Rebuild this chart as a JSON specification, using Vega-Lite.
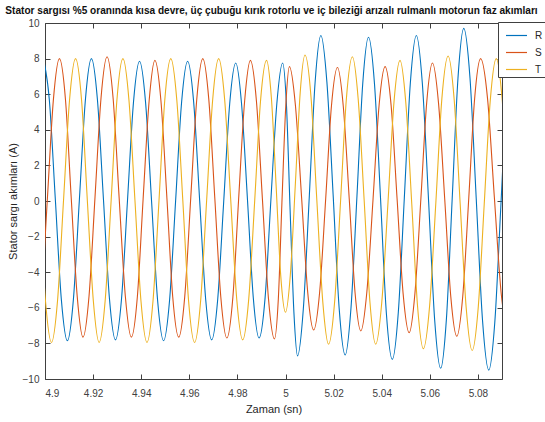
{
"$schema": "https://vega.github.io/schema/vega-lite/v6.json",
"width": 457, "height": 356,
"autosize": {"type": "none"},
"padding": {"left": 45, "top": 23, "right": 43, "bottom": 43},
"background": "white",
"config": {"view": {"stroke": "#404040", "strokeWidth": 1}, "font": "Liberation Sans"},
"title": {"text": "Stator sargısı %5  oranında kısa devre, üç çubuğu kırık rotorlu ve  iç bileziği arızalı rulmanlı motorun faz akımları", "fontSize": 10.1, "fontWeight": "bold", "font": "Liberation Sans", "color": "#111111", "anchor": "middle", "frame": "group", "offset": 2, "dx": -2},
"layer": [
{"data": {"values": [
{"p":"R","t":4.8993,"v":8.0},{"p":"R","t":4.9018,"v":5.69},{"p":"R","t":4.9043,"v":0.08},{"p":"R","t":4.9068,"v":-5.54},
{"p":"R","t":4.9093,"v":-7.85},{"p":"R","t":4.9118,"v":-5.54},{"p":"R","t":4.9143,"v":0.08},{"p":"R","t":4.9168,"v":5.69},
{"p":"R","t":4.9193,"v":8.0},{"p":"R","t":4.9218,"v":5.69},{"p":"R","t":4.9243,"v":0.1},{"p":"R","t":4.9268,"v":-5.49},
{"p":"R","t":4.9293,"v":-7.8},{"p":"R","t":4.9318,"v":-5.52},{"p":"R","t":4.9343,"v":0.03},{"p":"R","t":4.9368,"v":5.57},
{"p":"R","t":4.9393,"v":7.85},{"p":"R","t":4.9418,"v":5.56},{"p":"R","t":4.9443,"v":0},{"p":"R","t":4.9468,"v":-5.56},
{"p":"R","t":4.9493,"v":-7.85},{"p":"R","t":4.9518,"v":-5.56},{"p":"R","t":4.9543,"v":0},{"p":"R","t":4.9568,"v":5.56},
{"p":"R","t":4.9593,"v":7.85},{"p":"R","t":4.9618,"v":5.57},{"p":"R","t":4.9643,"v":0.03},{"p":"R","t":4.9668,"v":-5.52},
{"p":"R","t":4.9693,"v":-7.8},{"p":"R","t":4.9718,"v":-5.53},{"p":"R","t":4.9743,"v":-0.03},{"p":"R","t":4.9768,"v":5.48},
{"p":"R","t":4.9793,"v":7.75},{"p":"R","t":4.9817,"v":5.49},{"p":"R","t":4.9842,"v":0.03},{"p":"R","t":4.9866,"v":-5.44},
{"p":"R","t":4.9890,"v":-7.7},{"p":"R","t":4.9915,"v":-5.44},{"p":"R","t":4.9939,"v":0.03},{"p":"R","t":4.9964,"v":5.49},
{"p":"R","t":4.9988,"v":7.75},{"p":"R","t":5.0004,"v":5.35},{"p":"R","t":5.0019,"v":-0.48},{"p":"R","t":5.0035,"v":-6.30},
{"p":"R","t":5.0050,"v":-8.7},{"p":"R","t":5.0074,"v":-6.07},{"p":"R","t":5.0099,"v":0.3},{"p":"R","t":5.0123,"v":6.67},
{"p":"R","t":5.0147,"v":9.3},{"p":"R","t":5.0172,"v":6.68},{"p":"R","t":5.0198,"v":0.33},{"p":"R","t":5.0223,"v":-6.03},
{"p":"R","t":5.0248,"v":-8.65},{"p":"R","t":5.0272,"v":-6.04},{"p":"R","t":5.0297,"v":0.28},{"p":"R","t":5.0321,"v":6.59},
{"p":"R","t":5.0345,"v":9.2},{"p":"R","t":5.0370,"v":6.56},{"p":"R","t":5.0395,"v":0.15},{"p":"R","t":5.0419,"v":-6.26},
{"p":"R","t":5.0444,"v":-8.9},{"p":"R","t":5.0469,"v":-6.24},{"p":"R","t":5.0494,"v":0.2},{"p":"R","t":5.0519,"v":6.64},
{"p":"R","t":5.0544,"v":9.3},{"p":"R","t":5.0569,"v":6.57},{"p":"R","t":5.0595,"v":-0.05},{"p":"R","t":5.0620,"v":-6.67},
{"p":"R","t":5.0645,"v":-9.4},{"p":"R","t":5.0669,"v":-6.61},{"p":"R","t":5.0693,"v":0.15},{"p":"R","t":5.0717,"v":6.91},
{"p":"R","t":5.0741,"v":9.7},{"p":"R","t":5.0767,"v":6.9},{"p":"R","t":5.0793,"v":0.1},{"p":"R","t":5.0819,"v":-6.7},
{"p":"R","t":5.0845,"v":-9.5},{"p":"R","t":5.0870,"v":-6.83},{"p":"R","t":5.0895,"v":-0.35},{"p":"R","t":5.0920,"v":6.13},
{"p":"R","t":5.0945,"v":8.8},
{"p":"S","t":4.8960,"v":-7.7},{"p":"S","t":4.8985,"v":-5.41},{"p":"S","t":4.9010,"v":0.15},{"p":"S","t":4.9035,"v":5.71},
{"p":"S","t":4.9060,"v":8.0},{"p":"S","t":4.9085,"v":5.72},{"p":"S","t":4.9109,"v":0.18},{"p":"S","t":4.9134,"v":-5.37},
{"p":"S","t":4.9158,"v":-7.65},{"p":"S","t":4.9183,"v":-5.35},{"p":"S","t":4.9208,"v":0.23},{"p":"S","t":4.9233,"v":5.8},
{"p":"S","t":4.9258,"v":8.1},{"p":"S","t":4.9283,"v":5.8},{"p":"S","t":4.9308,"v":0.23},{"p":"S","t":4.9334,"v":-5.35},
{"p":"S","t":4.9359,"v":-7.65},{"p":"S","t":4.9384,"v":-5.38},{"p":"S","t":4.9408,"v":0.13},{"p":"S","t":4.9433,"v":5.63},
{"p":"S","t":4.9457,"v":7.9},{"p":"S","t":4.9482,"v":5.63},{"p":"S","t":4.9507,"v":0.13},{"p":"S","t":4.9531,"v":-5.38},
{"p":"S","t":4.9556,"v":-7.65},{"p":"S","t":4.9581,"v":-5.37},{"p":"S","t":4.9606,"v":0.18},{"p":"S","t":4.9631,"v":5.72},
{"p":"S","t":4.9656,"v":8.0},{"p":"S","t":4.9681,"v":5.71},{"p":"S","t":4.9706,"v":0.15},{"p":"S","t":4.9731,"v":-5.41},
{"p":"S","t":4.9756,"v":-7.7},{"p":"S","t":4.9781,"v":-5.42},{"p":"S","t":4.9805,"v":0.1},{"p":"S","t":4.9830,"v":5.62},
{"p":"S","t":4.9854,"v":7.9},{"p":"S","t":4.9879,"v":5.62},{"p":"S","t":4.9904,"v":0.08},{"p":"S","t":4.9929,"v":-5.47},
{"p":"S","t":4.9954,"v":-7.75},{"p":"S","t":4.9970,"v":-5.52},{"p":"S","t":4.9985,"v":-0.1},{"p":"S","t":5.0001,"v":5.32},
{"p":"S","t":5.0016,"v":7.55},{"p":"S","t":5.0041,"v":5.39},{"p":"S","t":5.0067,"v":0.15},{"p":"S","t":5.0092,"v":-5.09},
{"p":"S","t":5.0117,"v":-7.25},{"p":"S","t":5.0142,"v":-5.1},{"p":"S","t":5.0167,"v":0.13},{"p":"S","t":5.0191,"v":5.35},
{"p":"S","t":5.0216,"v":7.5},{"p":"S","t":5.0240,"v":5.34},{"p":"S","t":5.0265,"v":0.1},{"p":"S","t":5.0289,"v":-5.14},
{"p":"S","t":5.0313,"v":-7.3},{"p":"S","t":5.0338,"v":-5.13},{"p":"S","t":5.0364,"v":0.13},{"p":"S","t":5.0389,"v":5.38},
{"p":"S","t":5.0414,"v":7.55},{"p":"S","t":5.0439,"v":5.37},{"p":"S","t":5.0464,"v":0.08},{"p":"S","t":5.0489,"v":-5.22},
{"p":"S","t":5.0514,"v":-7.4},{"p":"S","t":5.0538,"v":-5.19},{"p":"S","t":5.0563,"v":0.18},{"p":"S","t":5.0587,"v":5.54},
{"p":"S","t":5.0611,"v":7.75},{"p":"S","t":5.0636,"v":5.51},{"p":"S","t":5.0662,"v":0.08},{"p":"S","t":5.0687,"v":-5.36},
{"p":"S","t":5.0712,"v":-7.6},{"p":"S","t":5.0737,"v":-5.32},{"p":"S","t":5.0762,"v":0.2},{"p":"S","t":5.0786,"v":5.72},
{"p":"S","t":5.0811,"v":8.0},{"p":"S","t":5.0840,"v":5.74},{"p":"S","t":5.0868,"v":0.25},{"p":"S","t":5.0897,"v":-5.24},
{"p":"S","t":5.0925,"v":-7.5},
{"p":"T","t":4.8927,"v":8.0},{"p":"T","t":4.8952,"v":5.67},{"p":"T","t":4.8977,"v":0.03},{"p":"T","t":4.9002,"v":-5.62},
{"p":"T","t":4.9027,"v":-7.95},{"p":"T","t":4.9052,"v":-5.62},{"p":"T","t":4.9077,"v":0.03},{"p":"T","t":4.9102,"v":5.67},
{"p":"T","t":4.9127,"v":8.0},{"p":"T","t":4.9152,"v":5.67},{"p":"T","t":4.9176,"v":0.03},{"p":"T","t":4.9201,"v":-5.62},
{"p":"T","t":4.9225,"v":-7.95},{"p":"T","t":4.9250,"v":-5.62},{"p":"T","t":4.9275,"v":0.03},{"p":"T","t":4.9299,"v":5.67},
{"p":"T","t":4.9324,"v":8.0},{"p":"T","t":4.9349,"v":5.67},{"p":"T","t":4.9374,"v":0.03},{"p":"T","t":4.9399,"v":-5.62},
{"p":"T","t":4.9424,"v":-7.95},{"p":"T","t":4.9449,"v":-5.62},{"p":"T","t":4.9474,"v":0.03},{"p":"T","t":4.9498,"v":5.67},
{"p":"T","t":4.9523,"v":8.0},{"p":"T","t":4.9548,"v":5.67},{"p":"T","t":4.9573,"v":0.03},{"p":"T","t":4.9597,"v":-5.62},
{"p":"T","t":4.9622,"v":-7.95},{"p":"T","t":4.9647,"v":-5.62},{"p":"T","t":4.9672,"v":0.03},{"p":"T","t":4.9697,"v":5.67},
{"p":"T","t":4.9722,"v":8.0},{"p":"T","t":4.9747,"v":5.69},{"p":"T","t":4.9772,"v":0.1},{"p":"T","t":4.9797,"v":-5.49},
{"p":"T","t":4.9822,"v":-7.8},{"p":"T","t":4.9847,"v":-5.51},{"p":"T","t":4.9872,"v":0.05},{"p":"T","t":4.9896,"v":5.61},
{"p":"T","t":4.9921,"v":7.9},{"p":"T","t":4.9941,"v":5.83},{"p":"T","t":4.9961,"v":0.83},{"p":"T","t":4.9980,"v":-4.18},
{"p":"T","t":5.0000,"v":-6.25},{"p":"T","t":5.0020,"v":-4.14},{"p":"T","t":5.0041,"v":0.98},{"p":"T","t":5.0061,"v":6.09},
{"p":"T","t":5.0081,"v":8.2},{"p":"T","t":5.0106,"v":5.83},{"p":"T","t":5.0130,"v":0.08},{"p":"T","t":5.0155,"v":-5.68},
{"p":"T","t":5.0179,"v":-8.05},{"p":"T","t":5.0204,"v":-5.69},{"p":"T","t":5.0229,"v":0.03},{"p":"T","t":5.0253,"v":5.74},
{"p":"T","t":5.0278,"v":8.1},{"p":"T","t":5.0302,"v":5.74},{"p":"T","t":5.0327,"v":0.03},{"p":"T","t":5.0351,"v":-5.69},
{"p":"T","t":5.0375,"v":-8.05},{"p":"T","t":5.0400,"v":-5.72},{"p":"T","t":5.0426,"v":-0.08},{"p":"T","t":5.0451,"v":5.57},
{"p":"T","t":5.0476,"v":7.9},{"p":"T","t":5.0500,"v":5.53},{"p":"T","t":5.0525,"v":-0.2},{"p":"T","t":5.0549,"v":-5.93},
{"p":"T","t":5.0573,"v":-8.3},{"p":"T","t":5.0599,"v":-5.9},{"p":"T","t":5.0625,"v":-0.08},{"p":"T","t":5.0650,"v":5.75},
{"p":"T","t":5.0676,"v":8.15},{"p":"T","t":5.0701,"v":5.73},{"p":"T","t":5.0726,"v":-0.13},{"p":"T","t":5.0751,"v":-5.98},
{"p":"T","t":5.0776,"v":-8.4},{"p":"T","t":5.0801,"v":-6.01},{"p":"T","t":5.0826,"v":-0.2},{"p":"T","t":5.0851,"v":5.61},
{"p":"T","t":5.0876,"v":8.0},{"p":"T","t":5.0901,"v":5.66},{"p":"T","t":5.0926,"v":0},{"p":"T","t":5.0951,"v":-5.66},
{"p":"T","t":5.0976,"v":-8.0}
]},
"mark": {"type": "line", "clip": true, "strokeWidth": 1.1, "interpolate": "monotone"},
"encoding": {
"x": {"field": "t", "type": "quantitative", "scale": {"domain": [4.9, 5.09], "nice": false, "zero": false},
"axis": {"orient": "bottom", "values": [4.9, 4.92, 4.94, 4.96, 4.98, 5, 5.02, 5.04, 5.06, 5.08], "format": "~g", "title": "Zaman (sn)", "grid": false, "domain": false, "tickSize": -5, "tickColor": "#404040", "labelFont": "Liberation Sans", "labelFontSize": 10, "labelColor": "#404040", "labelPadding": 14, "titleFont": "Liberation Sans", "titleFontSize": 11, "titleFontWeight": "normal", "titleColor": "#262626", "titlePadding": 5}},
"y": {"field": "v", "type": "quantitative", "scale": {"domain": [-10, 10], "nice": false, "zero": false},
"axis": {"orient": "left", "values": [-10, -8, -6, -4, -2, 0, 2, 4, 6, 8, 10], "title": "Stator sargı akımları (A)", "grid": false, "domain": false, "tickSize": -5, "tickColor": "#404040", "labelFont": "Liberation Sans", "labelFontSize": 10, "labelColor": "#404040", "labelPadding": 11, "titleFont": "Liberation Sans", "titleFontSize": 11, "titleFontWeight": "normal", "titleColor": "#262626", "titlePadding": 4}},
"color": {"field": "p", "type": "nominal", "scale": {"domain": ["R", "S", "T"], "range": ["#0072BD", "#D95319", "#EDB120"]},
"legend": {"title": null, "orient": "none", "legendX": 453, "legendY": -1, "fillColor": "white", "strokeColor": "#404040", "padding": 2, "symbolType": "stroke", "symbolSize": 441, "symbolStrokeWidth": 1.2, "symbolOffset": 5, "labelOffset": 7, "labelFont": "Liberation Sans", "labelFontSize": 10, "labelColor": "#262626", "rowPadding": 0}}
}},
{"data": {"values": [{"t": 4.95, "v": 0}]},
"mark": {"type": "point", "opacity": 0},
"encoding": {
"x": {"field": "t", "type": "quantitative", "scale": {"domain": [4.9, 5.09], "nice": false, "zero": false},
"axis": {"orient": "top", "values": [4.9, 4.92, 4.94, 4.96, 4.98, 5, 5.02, 5.04, 5.06, 5.08], "labels": false, "title": null, "grid": false, "domain": false, "tickSize": -5, "tickColor": "#404040"}},
"y": {"field": "v", "type": "quantitative", "scale": {"domain": [-10, 10], "nice": false, "zero": false},
"axis": {"orient": "right", "values": [-10, -8, -6, -4, -2, 0, 2, 4, 6, 8, 10], "labels": false, "title": null, "grid": false, "domain": false, "tickSize": -5, "tickColor": "#404040"}}
}}
],
"resolve": {"axis": {"x": "independent", "y": "independent"}}
}
